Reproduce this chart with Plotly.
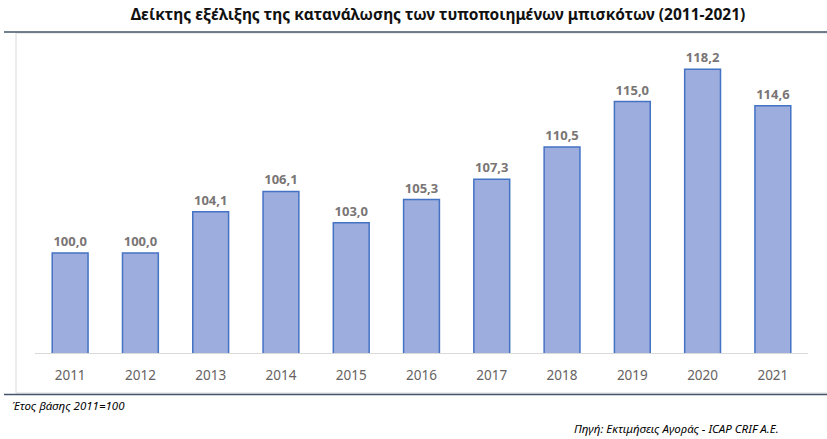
import plotly.graph_objects as go

years = ["2011", "2012", "2013", "2014", "2015", "2016", "2017", "2018", "2019", "2020", "2021"]
values = [100.0, 100.0, 104.1, 106.1, 103.0, 105.3, 107.3, 110.5, 115.0, 118.2, 114.6]
labels = [f"{v:.1f}".replace(".", ",") for v in values]

W, H = 827, 439
L, R, T, B = 35, 19, 40, 86
pw = W - L - R
ph = H - T - B

def px_x(p):
    return (p - L) / pw

def px_y(p):
    return (H - B - p) / ph

fig = go.Figure()
fig.add_trace(go.Bar(
    x=years, y=values, text=labels, textposition="outside",
    cliponaxis=False,
    textfont=dict(family="Noto Sans", size=13, color="#7A7575", weight="bold"),
    marker=dict(color="#9DADDD", line=dict(color="#4472C4", width=1.5)),
    width=0.51,
))

fig.update_layout(
    width=W, height=H,
    margin=dict(l=L, r=R, t=T, b=B),
    paper_bgcolor="white", plot_bgcolor="white",
    showlegend=False,
    title=dict(text="<b>Δείκτης εξέλιξης της κατανάλωσης των τυποποιημένων μπισκότων (2011-2021)</b>",
               x=px_x(438), xref="paper", xanchor="center", y=1 - 15 / H, yanchor="middle",
               font=dict(family="Noto Sans", size=15.5, color="#111111")),
    xaxis=dict(type="category", showgrid=False, showline=True, linecolor="#D9D9D9", linewidth=1,
               ticks="", ticklabelstandoff=10,
               tickfont=dict(family="Noto Sans", size=13.5, color="#666262")),
    yaxis=dict(range=[90.1, 121.1], visible=False),
    shapes=[
        dict(type="rect", xref="paper", yref="paper", x0=px_x(16), x1=px_x(830), y0=px_y(393), y1=px_y(33),
             line=dict(color="#D9D9D9", width=1), fillcolor="rgba(0,0,0,0)", layer="below"),
        dict(type="line", xref="paper", yref="paper", x0=px_x(4), x1=px_x(830), y0=px_y(32), y1=px_y(32),
             line=dict(color="#44546A", width=1.5)),
        dict(type="line", xref="paper", yref="paper", x0=px_x(4), x1=px_x(830), y0=px_y(394.5), y1=px_y(394.5),
             line=dict(color="#44546A", width=1.5)),
    ],
    annotations=[
        dict(text="<i>Έτος βάσης 2011=100</i>", xref="paper", yref="paper", x=px_x(10), y=px_y(405),
             xanchor="left", yanchor="middle", showarrow=False,
             font=dict(family="Noto Sans", size=11.5, color="#000000")),
        dict(text="<i>Πηγή: Εκτιμήσεις Αγοράς - ICAP CRIF A.E.</i>", xref="paper", yref="paper",
             x=px_x(781), y=px_y(428), xanchor="right", yanchor="middle", showarrow=False,
             font=dict(family="Noto Sans", size=11.5, color="#000000")),
    ],
)

fig.write_html("out.html")
